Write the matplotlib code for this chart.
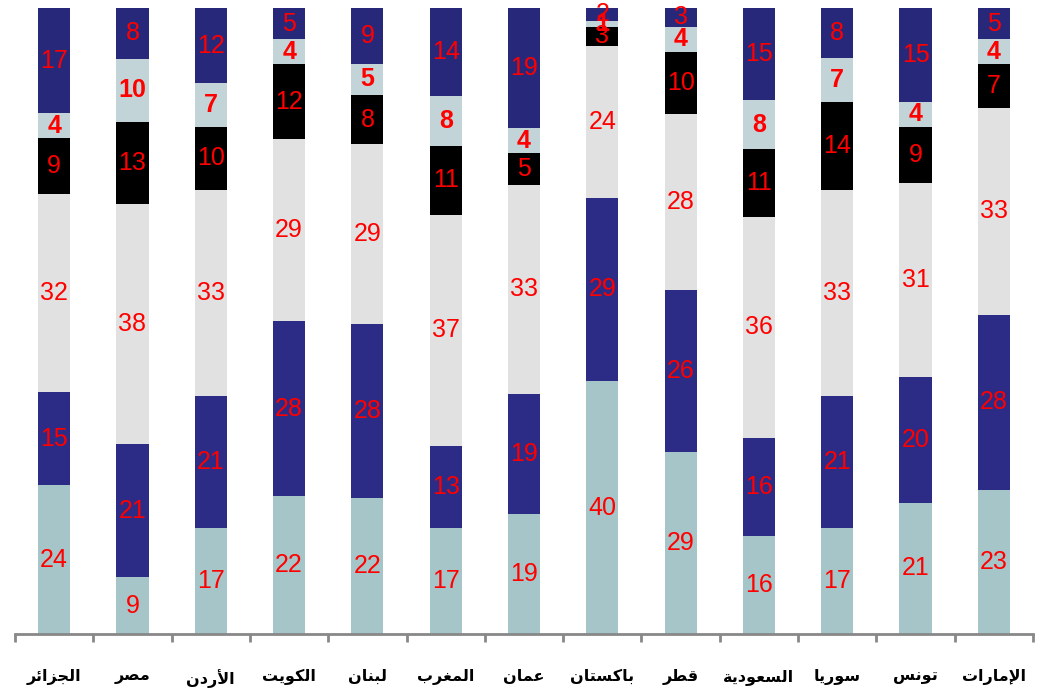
import matplotlib
matplotlib.use("Agg")
import matplotlib.pyplot as plt
import numpy as np

# categories (Arabic, logical order)
countries = ['الجزائر', 'مصر', 'الأردن', 'الكويت', 'لبنان', 'المغرب', 'عمان',
             'باكستان', 'قطر', 'السعودية', 'سوريا', 'تونس', 'الإمارات']

# stacked series, bottom to top
s1 = [24, 9, 17, 22, 22, 17, 19, 40, 29, 16, 17, 21, 23]
s2 = [15, 21, 21, 28, 28, 13, 19, 29, 26, 16, 21, 20, 28]
s3 = [32, 38, 33, 29, 29, 37, 33, 24, 28, 36, 33, 31, 33]
s4 = [9, 13, 10, 12, 8, 11, 5, 3, 10, 11, 14, 9, 7]
s5 = [4, 10, 7, 4, 5, 8, 4, 1, 4, 8, 7, 4, 4]
s6 = [17, 8, 12, 5, 9, 14, 19, 2, 3, 15, 8, 15, 5]

series = [s1, s2, s3, s4, s5, s6]
colors = ['#A6C5C9', '#2C2B85', '#E1E1E1', '#000000', '#C2D4D7', '#28287B']
bold = [False, False, False, False, True, False]

# minimal Arabic shaping (matplotlib has no complex text layout)
FORMS = {
    'ا': ('\uFE8D', '\uFE8E'), 'أ': ('\uFE83', '\uFE84'), 'إ': ('\uFE87', '\uFE88'),
    'ب': ('\uFE8F', '\uFE90', '\uFE91', '\uFE92'), 'ة': ('\uFE93', '\uFE94'),
    'ت': ('\uFE95', '\uFE96', '\uFE97', '\uFE98'), 'ج': ('\uFE9D', '\uFE9E', '\uFE9F', '\uFEA0'),
    'د': ('\uFEA9', '\uFEAA'), 'ر': ('\uFEAD', '\uFEAE'), 'ز': ('\uFEAF', '\uFEB0'),
    'س': ('\uFEB1', '\uFEB2', '\uFEB3', '\uFEB4'), 'ص': ('\uFEB9', '\uFEBA', '\uFEBB', '\uFEBC'),
    'ط': ('\uFEC1', '\uFEC2', '\uFEC3', '\uFEC4'), 'ع': ('\uFEC9', '\uFECA', '\uFECB', '\uFECC'),
    'غ': ('\uFECD', '\uFECE', '\uFECF', '\uFED0'), 'ق': ('\uFED5', '\uFED6', '\uFED7', '\uFED8'),
    'ك': ('\uFED9', '\uFEDA', '\uFEDB', '\uFEDC'), 'ل': ('\uFEDD', '\uFEDE', '\uFEDF', '\uFEE0'),
    'م': ('\uFEE1', '\uFEE2', '\uFEE3', '\uFEE4'), 'ن': ('\uFEE5', '\uFEE6', '\uFEE7', '\uFEE8'),
    'و': ('\uFEED', '\uFEEE'), 'ي': ('\uFEF1', '\uFEF2', '\uFEF3', '\uFEF4'),
    'ئ': ('\uFE89', '\uFE8A', '\uFE8B', '\uFE8C'),
}
LAMALEF = {'ا': ('\uFEFB', '\uFEFC'), 'أ': ('\uFEF7', '\uFEF8'), 'إ': ('\uFEF9', '\uFEFA')}


def shape(word):
    out = []
    prev_joins = False
    i = 0
    while i < len(word):
        c = word[i]
        if c == 'ل' and i + 1 < len(word) and word[i + 1] in LAMALEF:
            iso, fin = LAMALEF[word[i + 1]]
            out.append(fin if prev_joins else iso)
            prev_joins = False
            i += 2
            continue
        f = FORMS[c]
        has_next = i + 1 < len(word)
        if len(f) == 4 and has_next:
            out.append(f[3] if prev_joins else f[2])
        else:
            out.append(f[1] if prev_joins else f[0])
        prev_joins = len(f) == 4
        i += 1
    return ''.join(reversed(out))


data = np.array(series, dtype=float)
totals = data.sum(axis=0)
pct = data / totals * 100

fig = plt.figure(figsize=(10.39, 6.97), dpi=100)
ax = fig.add_axes([15 / 1039, 63 / 697, 1018 / 1039, 626 / 697])

x = np.arange(len(countries))
bottom = np.zeros(len(countries))
for k in range(len(series)):
    ax.bar(x, pct[k], 0.41, bottom=bottom, color=colors[k], linewidth=0)
    for i in range(len(countries)):
        ax.text(x[i], bottom[i] + pct[k][i] / 2, str(series[k][i]),
                ha='center', va='center', color='#FF0000', fontsize=18,
                family='Liberation Sans', fontweight='bold' if bold[k] else 'normal')
    bottom += pct[k]

ax.set_xlim(-0.5, len(countries) - 0.5)
ax.set_ylim(0, 100)
for side in ['top', 'right', 'left']:
    ax.spines[side].set_visible(False)
ax.spines['bottom'].set_color('#888888')
ax.spines['bottom'].set_linewidth(2)
ax.set_yticks([])

ax.set_xticks(x)
ax.set_xticklabels([shape(c) for c in countries],
                   family=['DejaVu Sans Condensed', 'DejaVu Sans'],
                   fontsize=11.5, fontweight='bold')
ax.tick_params(axis='x', which='major', length=0, pad=25)
ax.set_xticks(np.arange(len(countries) + 1) - 0.5, minor=True)
ax.tick_params(axis='x', which='minor', length=6, width=2, color='#888888')

fig.savefig('out.png', dpi=100)
